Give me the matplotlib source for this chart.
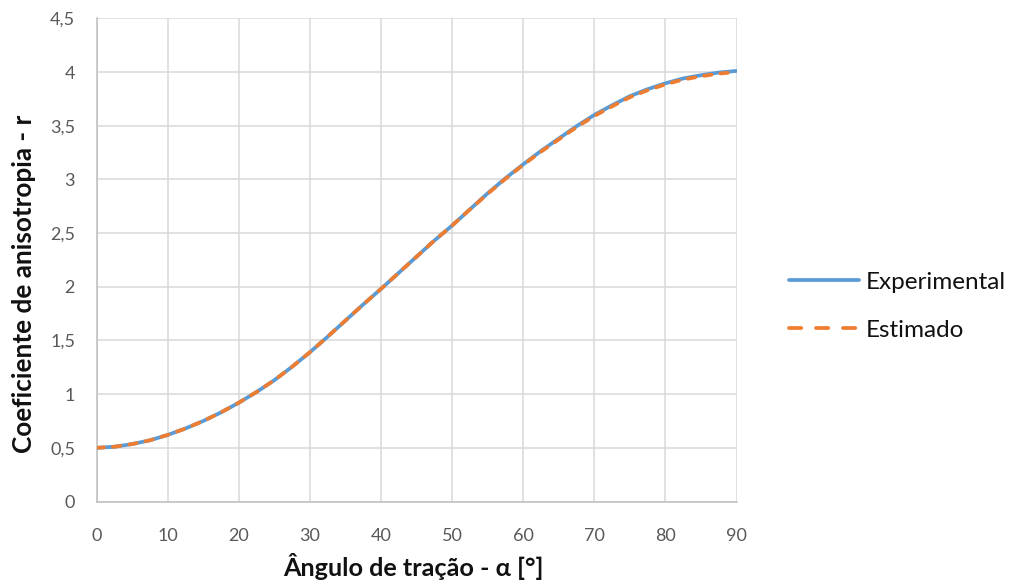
import matplotlib.pyplot as plt
from matplotlib.lines import Line2D

# r(alpha) read every 2.5 degrees
angles = [0, 2.5, 5, 7.5, 10, 12.5, 15, 17.5, 20, 22.5, 25, 27.5, 30, 32.5,
          35, 37.5, 40, 42.5, 45, 47.5, 50, 52.5, 55, 57.5, 60, 62.5, 65,
          67.5, 70, 72.5, 75, 77.5, 80, 82.5, 85, 87.5, 90]
r_experimental = [0.50, 0.51, 0.535, 0.57, 0.62, 0.68, 0.75, 0.83, 0.92, 1.02,
                  1.13, 1.255, 1.39, 1.535, 1.685, 1.835, 1.98, 2.13, 2.28,
                  2.43, 2.57, 2.72, 2.87, 3.01, 3.14, 3.265, 3.38, 3.495,
                  3.60, 3.69, 3.775, 3.84, 3.895, 3.94, 3.97, 3.995, 4.01]
r_estimado = [0.50, 0.51, 0.535, 0.57, 0.62, 0.68, 0.75, 0.83, 0.92, 1.02,
              1.13, 1.255, 1.39, 1.535, 1.685, 1.835, 1.98, 2.13, 2.28,
              2.43, 2.57, 2.72, 2.865, 3.005, 3.135, 3.258, 3.372, 3.486,
              3.59, 3.68, 3.765, 3.83, 3.885, 3.93, 3.96, 3.985, 4.00]

xticks = [0, 10, 20, 30, 40, 50, 60, 70, 80, 90]
yticks = [0, 0.5, 1, 1.5, 2, 2.5, 3, 3.5, 4, 4.5]
ytick_labels = ['0', '0,5', '1', '1,5', '2', '2,5', '3', '3,5', '4', '4,5']

blue = '#5b9bd5'
orange = '#ed7d31'

plt.rcParams['font.family'] = ['Lato', 'DejaVu Sans']

fig = plt.figure(figsize=(10.11, 5.85), dpi=100)
ax = fig.add_axes([0.0955, 0.1427, 0.633, 0.826])

ax.plot(angles, r_experimental, color=blue, lw=2.7,
        solid_capstyle='round', zorder=3)
ax.plot(angles, r_estimado, color=orange, lw=2.7, dashes=(2.0, 2.4),
        dash_capstyle='round', zorder=4)

ax.set_xlim(0, 90)
ax.set_ylim(0, 4.5)
ax.set_xticks(xticks)
ax.set_yticks(yticks)
ax.set_yticklabels(ytick_labels)
ax.grid(True, color='#d9d9d9', linewidth=1.1)
ax.set_axisbelow(True)

for side in ['top', 'right']:
  ax.spines[side].set_visible(False)
for side in ['left', 'bottom']:
  ax.spines[side].set_color('#bfbfbf')
  ax.spines[side].set_linewidth(1.1)

ax.tick_params(length=0, labelsize=13, labelcolor='#595959')
ax.tick_params(axis='x', pad=19)
ax.tick_params(axis='y', pad=15.5)

ax.set_xlabel('Ângulo de tração - α [°]', fontsize=18.2, fontweight='bold',
              color='#111111', va='center')
ax.xaxis.set_label_coords(0.495, -0.135)
ax.set_ylabel('Coeficiente de anisotropia - r', fontsize=18.8, fontweight='bold',
              color='#111111', va='center')
ax.yaxis.set_label_coords(-0.113, 0.45)

# legend keys drawn with a longer dash so three dashes fit the key
handles = [
  Line2D([], [], color=blue, lw=2.7, solid_capstyle='round'),
  Line2D([], [], color=orange, lw=2.7, dashes=(3.27, 3.93),
         dash_capstyle='round'),
]
fig.legend(handles, ['Experimental', 'Estimado'], loc='center left',
           bbox_to_anchor=(0.7804, 0.4765), frameon=False,
           borderaxespad=0, borderpad=0, fontsize=17.5, handlelength=2.9,
           handletextpad=0.25, labelspacing=1.12, labelcolor='#111111')

fig.savefig('out.png', dpi=100)
